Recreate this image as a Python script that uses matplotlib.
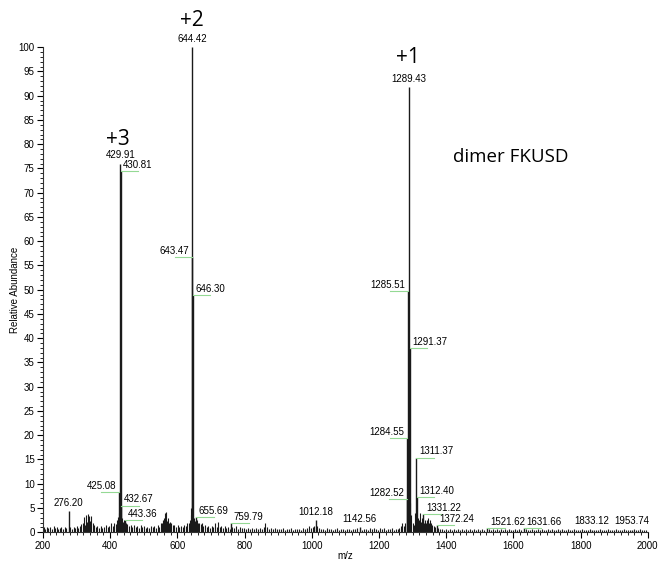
import matplotlib.pyplot as plt
from matplotlib.ticker import MultipleLocator

# labelled peaks: m/z, relative abundance, label placement
peak_mz = [276.20, 425.08, 429.91, 430.81, 432.67, 443.36,
           643.47, 644.42, 646.30, 655.69, 759.79, 1012.18, 1142.56,
           1282.52, 1284.55, 1285.51, 1289.43, 1291.37, 1311.37, 1312.40,
           1331.22, 1372.24, 1521.62, 1631.66, 1833.12, 1953.74]
peak_int = [4.3, 8.2, 76.0, 74.4, 5.5, 2.5,
            56.7, 100.0, 48.9, 3.1, 1.8, 2.5, 1.0,
            6.9, 19.4, 49.7, 91.8, 38.0, 15.4, 7.2,
            3.7, 1.4, 0.8, 0.8, 0.5, 0.5]
peak_side = ['c', 'l', 'c', 'r', 'r', 'r',
             'l', 'c', 'r', 'r', 'r', 'c', 'c',
             'l', 'l', 'l', 'c', 'r', 'r', 'r',
             'r', 'r', 'r', 'r', 'c', 'c']

# unlabelled background signal (one row of m/z per row of intensity)
noise_mz = [203, 207, 212, 216, 221, 226, 232, 237, 241, 246,
            250, 255, 260, 265, 270, 281, 286, 291, 296, 300,
            305, 310, 314, 318, 322, 325, 328, 331, 334, 337,
            340, 344, 348, 352, 357, 362, 367, 372, 377, 382,
            388, 393, 398, 402, 407, 412, 416, 419, 422, 427,
            435, 437, 440, 446, 451, 456, 461, 466, 471, 476,
            481, 486, 491, 496, 501, 506, 511, 516, 521, 526,
            531, 536, 541, 546, 550, 554, 558, 561, 563, 565,
            567, 569, 571, 574, 577, 581, 586, 591, 596, 601,
            606, 611, 616, 621, 626, 630, 634, 637, 640, 642,
            649, 652, 658, 661, 665, 669, 673, 677, 682, 687,
            692, 697, 702, 707, 712, 717, 721, 726, 731, 736,
            741, 746, 751, 756, 764, 769, 774, 779, 785, 791,
            797, 803, 809, 815, 821, 827, 833, 839, 845, 851,
            857, 862, 867, 873, 879, 885, 891, 897, 903, 909,
            915, 921, 927, 933, 939, 945, 951, 957, 963, 969,
            975, 981, 987, 992, 997, 1003, 1008, 1017, 1022, 1028,
            1034, 1040, 1046, 1052, 1058, 1064, 1070, 1076, 1082, 1088,
            1094, 1100, 1106, 1112, 1118, 1124, 1130, 1136, 1148, 1154,
            1160, 1166, 1172, 1178, 1184, 1190, 1196, 1202, 1208, 1214,
            1220, 1226, 1232, 1238, 1244, 1250, 1256, 1261, 1266, 1270,
            1274, 1278, 1287, 1293, 1296, 1300, 1304, 1308, 1315, 1318,
            1321, 1324, 1327, 1334, 1337, 1340, 1343, 1346, 1349, 1352,
            1355, 1359, 1363, 1367, 1377, 1382, 1388, 1394, 1400, 1406,
            1412, 1418, 1424, 1430, 1436, 1442, 1448, 1454, 1460, 1466,
            1472, 1478, 1484, 1490, 1496, 1502, 1508, 1514, 1527, 1533,
            1539, 1545, 1551, 1557, 1563, 1569, 1575, 1581, 1587, 1593,
            1599, 1605, 1611, 1617, 1623, 1637, 1643, 1649, 1655, 1661,
            1667, 1673, 1679, 1685, 1691, 1697, 1703, 1709, 1715, 1721,
            1727, 1733, 1739, 1745, 1751, 1757, 1763, 1769, 1775, 1781,
            1787, 1793, 1799, 1805, 1811, 1817, 1823, 1828, 1839, 1845,
            1851, 1857, 1863, 1869, 1875, 1881, 1887, 1893, 1899, 1905,
            1911, 1917, 1923, 1929, 1935, 1941, 1947, 1959, 1965, 1971,
            1977, 1983, 1989, 1995]
noise_int = [1.0, 0.7, 1.1, 0.8, 1.0, 0.6, 1.2, 0.8, 1.0, 0.7,
             0.9, 1.1, 0.7, 1.0, 0.8, 1.0, 0.7, 1.1, 0.9, 1.3,
             0.8, 1.2, 1.6, 2.0, 3.2, 1.4, 3.5, 2.2, 3.8, 3.4,
             2.4, 3.3, 1.8, 1.5, 1.0, 1.2, 0.9, 1.2, 0.8, 1.1,
             1.5, 1.0, 1.3, 1.8, 1.2, 2.0, 1.6, 2.5, 3.2, 4.0,
             3.0, 2.2, 2.6, 2.0, 1.6, 1.3, 1.5, 1.1, 1.5, 1.0,
             1.2, 0.9, 1.4, 1.0, 1.2, 0.9, 1.1, 0.8, 1.3, 1.0,
             1.2, 0.9, 1.4, 1.1, 1.8, 2.0, 2.5, 3.0, 4.0, 2.6,
             4.1, 2.4, 3.0, 2.0, 2.2, 1.8, 1.4, 1.5, 1.1, 1.5,
             1.0, 1.3, 1.0, 1.4, 1.2, 1.8, 2.0, 2.6, 3.5, 5.0,
             3.0, 2.4, 2.5, 1.8, 2.0, 1.6, 1.8, 1.3, 1.5, 1.1,
             1.2, 0.9, 1.2, 1.0, 1.8, 1.1, 2.2, 1.0, 1.3, 0.9,
             1.3, 0.8, 1.0, 0.7, 1.0, 0.8, 1.2, 0.7, 1.0, 0.8,
             0.9, 0.7, 0.8, 0.6, 0.9, 0.7, 0.8, 0.6, 0.9, 0.7,
             1.0, 1.8, 1.0, 0.7, 0.9, 0.6, 0.8, 0.6, 0.7, 0.6,
             0.8, 0.5, 0.7, 0.6, 0.8, 0.5, 0.7, 0.6, 0.7, 0.5,
             0.8, 0.6, 0.9, 1.3, 0.8, 1.0, 1.2, 1.2, 0.8, 0.6,
             0.7, 0.5, 0.8, 0.6, 0.7, 0.5, 0.6, 0.8, 0.5, 0.7,
             0.6, 0.5, 0.7, 0.6, 0.5, 0.7, 0.6, 0.8, 0.5, 0.7,
             0.6, 0.5, 0.8, 0.6, 0.9, 0.7, 0.5, 0.9, 0.6, 0.8,
             0.5, 0.7, 0.6, 0.9, 0.5, 0.7, 0.6, 0.9, 1.2, 1.8,
             1.2, 2.0, 9.0, 6.0, 3.5, 2.0, 1.5, 4.0, 3.0, 2.5,
             4.0, 2.2, 3.0, 2.0, 2.6, 1.8, 2.5, 3.0, 2.0, 2.6,
             1.8, 1.5, 1.2, 1.0, 0.8, 0.6, 0.7, 0.5, 0.6, 0.5,
             0.7, 0.5, 0.6, 0.4, 0.6, 0.5, 0.7, 0.4, 0.6, 0.5,
             0.7, 0.4, 0.6, 0.5, 0.6, 0.4, 0.6, 0.5, 0.6, 0.5,
             0.7, 0.4, 0.6, 0.5, 0.6, 0.4, 0.7, 0.5, 0.6, 0.4,
             0.5, 0.6, 0.4, 0.6, 0.5, 0.6, 0.4, 0.5, 0.6, 0.5,
             0.4, 0.6, 0.5, 0.7, 0.4, 0.5, 0.6, 0.4, 0.6, 0.5,
             0.4, 0.6, 0.5, 0.7, 0.4, 0.5, 0.6, 0.4, 0.5, 0.6,
             0.4, 0.5, 0.4, 0.6, 0.5, 0.4, 0.5, 0.6, 0.4, 0.5,
             0.4, 0.6, 0.5, 0.4, 0.5, 0.6, 0.4, 0.5, 0.4, 0.6,
             0.5, 0.4, 0.5, 0.6, 0.4, 0.5, 0.4, 0.6, 0.5, 0.4,
             0.6, 0.5, 0.4, 0.5]

charge_labels = ['+3', '+2', '+1']
charge_mz = [423, 643, 1286]
charge_y = [81.0, 105.6, 97.9]
sample_name = 'dimer FKUSD'

plt.rcParams['font.family'] = ['Liberation Sans', 'DejaVu Sans']

fig = plt.figure(figsize=(6.61, 5.62), dpi=100)
ax = fig.add_axes([0.065, 0.053, 0.915, 0.863])

ink = '#1a1a1a'
ax.vlines(noise_mz, 0, noise_int, color=ink, linewidth=0.8)
ax.vlines(peak_mz, 0, peak_int, color=ink, linewidth=1.0)

# peak labels; crowded ones sit on a green leader to one side of the peak
for mz, y, side in zip(peak_mz, peak_int, peak_side):
    txt = '%.2f' % mz
    if side == 'c':
        ax.annotate(txt, (mz, y), xytext=(0, 2.5), textcoords='offset points',
                    ha='center', va='bottom', fontsize=7)
    else:
        sign = 1 if side == 'r' else -1
        ax.plot([mz, mz + sign * 52], [y, y], color='#94d994', linewidth=0.8)
        ax.annotate(txt, (mz, y), xytext=(sign * 2.0, 0.8), textcoords='offset points',
                    ha='left' if side == 'r' else 'right', va='bottom', fontsize=7)

for lab, mz, y in zip(charge_labels, charge_mz, charge_y):
    ax.text(mz, y, lab, ha='center', va='center', fontsize=15,
            family='Open Sans', clip_on=False)
ax.text(1592, 77.3, sample_name, ha='center', va='center', fontsize=13.5,
        family='Open Sans')

ax.set_xlim(200, 2000)
ax.set_ylim(0, 100)
ax.xaxis.set_major_locator(MultipleLocator(200))
ax.xaxis.set_minor_locator(MultipleLocator(20))
ax.yaxis.set_major_locator(MultipleLocator(5))
ax.yaxis.set_minor_locator(MultipleLocator(1))
ax.tick_params(which='major', direction='out', length=4, width=0.8, labelsize=7, pad=2)
ax.tick_params(which='minor', direction='out', length=2, width=0.6)
for s in ['top', 'right']:
    ax.spines[s].set_visible(False)
for s in ['left', 'bottom']:
    ax.spines[s].set_linewidth(0.8)
    ax.spines[s].set_color('#333333')

ax.set_xlabel('m/z', fontsize=7, labelpad=0)
ax.set_ylabel('Relative Abundance', fontsize=7, labelpad=-1)

fig.savefig('out.png', dpi=100)
